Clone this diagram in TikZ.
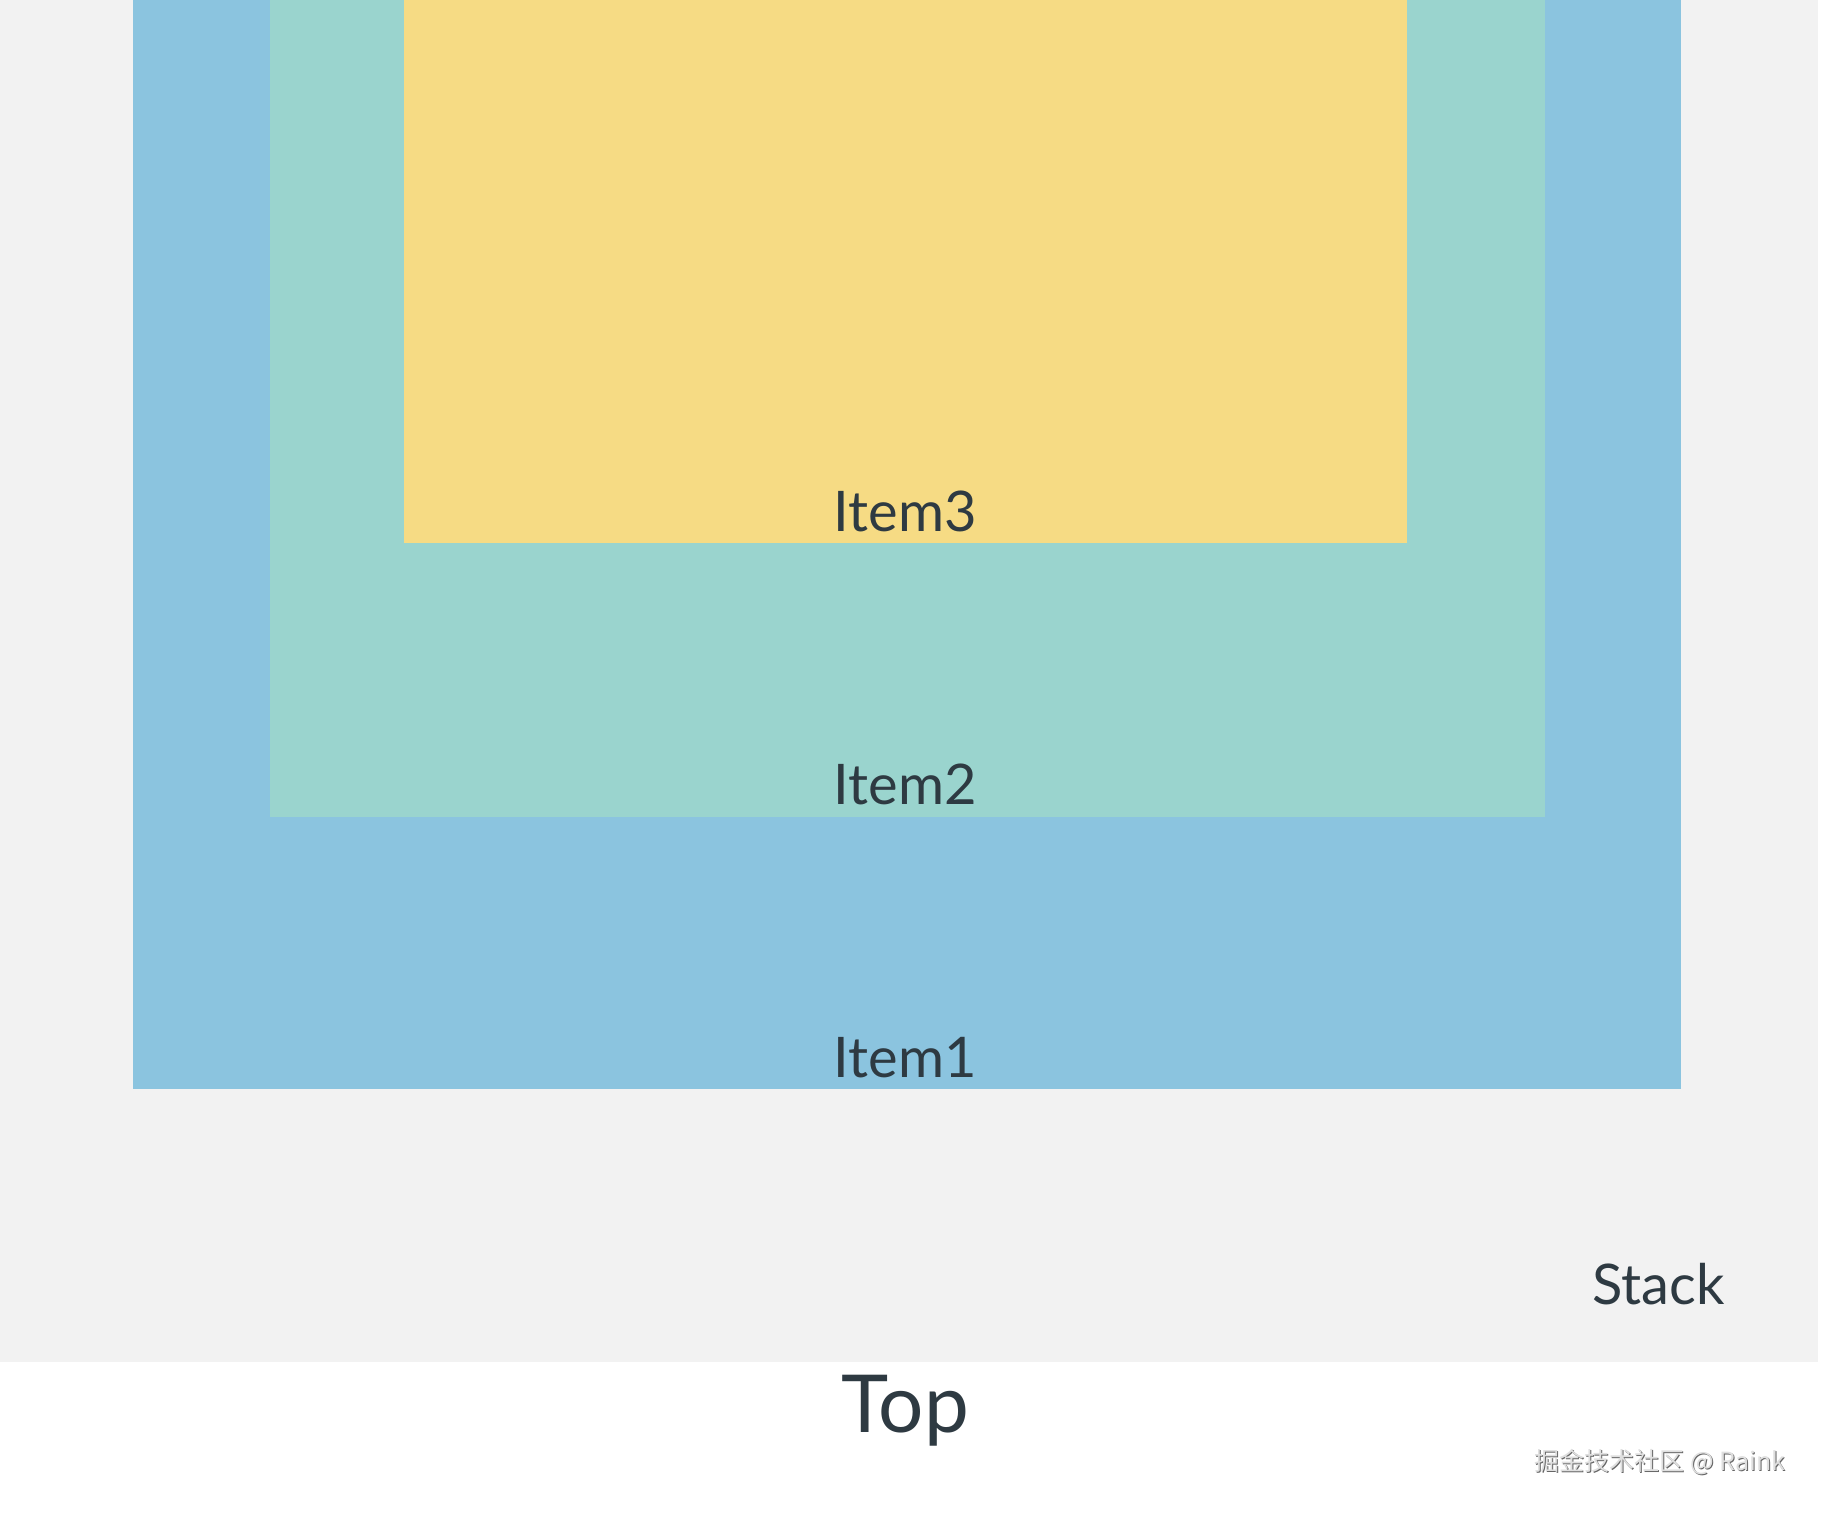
\documentclass[tikz,border=0pt]{standalone}
\usepackage{fontspec}
\setmainfont{Lato}
\newfontfamily\cjkfont{Noto Sans CJK SC}
\definecolor{stackbg}{HTML}{F2F2F2}
\definecolor{itemone}{HTML}{8BC4DF}
\definecolor{itemtwo}{HTML}{9AD4CE}
\definecolor{itemthree}{HTML}{F6DB84}
\definecolor{txt}{HTML}{2E3A42}
\begin{document}
\begin{tikzpicture}[x=0.5pt,y=-0.5pt,
  layer/.style={anchor=north west, inner sep=0pt, outer sep=0pt, draw=none},
  label/.style={anchor=base, inner sep=0pt, text=txt, font=\fontsize{28}{32}\selectfont}]
\useasboundingbox (0,0) rectangle (1822,1512);
\fill[white] (0,0) rectangle (1822,1512);
\node[layer, fill=stackbg, minimum width=909pt, minimum height=681pt] (stack) at (0,0) {};
\node[layer, fill=itemone, minimum width=774pt, minimum height=544.5pt] (item1) at (133,0) {};
\node[layer, fill=itemtwo, minimum width=637.5pt, minimum height=408.5pt] (item2) at (270,0) {};
\node[layer, fill=itemthree, minimum width=501.5pt, minimum height=271.5pt] (item3) at (404,0) {};
\node[label] (t1) at (905,1077) {Item1};
\node[label] (t2) at (905,804) {Item2};
\node[label] (t3) at (905,531) {Item3};
\node[label, anchor=base east] (ts) at (1725,1304) {Stack};
\node[label, font=\fontsize{40}{46}\selectfont] (tt) at (905,1432) {Top};
\node[anchor=base east, inner sep=0pt, text=gray!80!black, font=\cjkfont\fontsize{12.5}{14}\selectfont] (wms) at (1787,1471) {掘金技术社区 @ Raink};
\node[anchor=base east, inner sep=0pt, text=gray!25, font=\cjkfont\fontsize{12.5}{14}\selectfont] (wm) at (1786,1470) {掘金技术社区 @ Raink};
\end{tikzpicture}
\end{document}
